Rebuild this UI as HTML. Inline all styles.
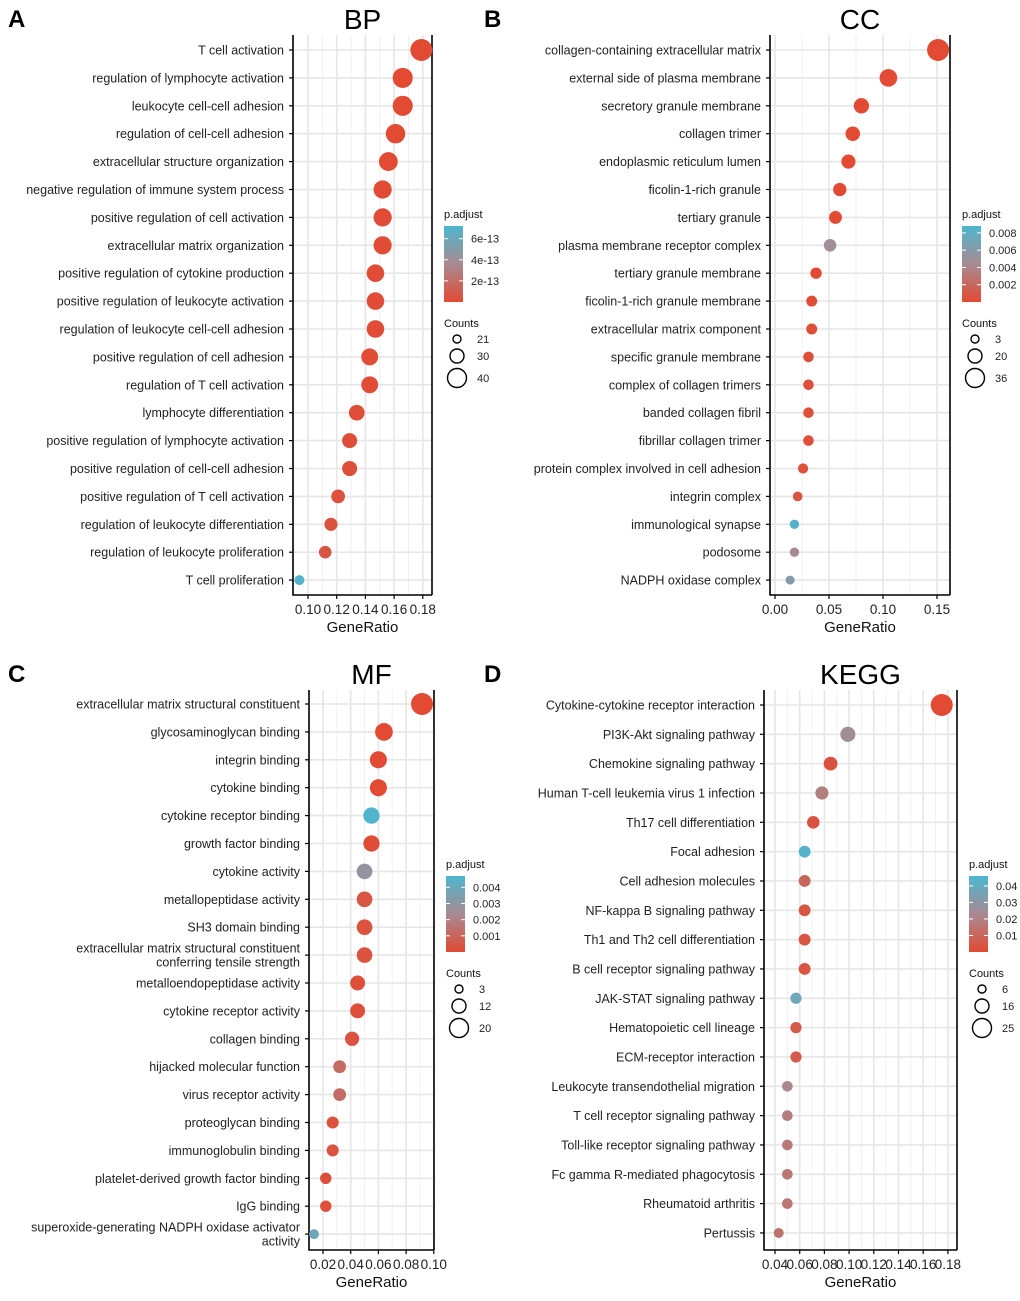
<!DOCTYPE html>
<html><head><meta charset="utf-8"><style>
body{margin:0;background:#fff;width:1020px;height:1296px;overflow:hidden}
svg text{font-family:"Liberation Sans",Arial,sans-serif}
</style></head><body>
<svg id="fig" width="1020" height="1296" xmlns="http://www.w3.org/2000/svg"></svg>
<script>
const NS="http://www.w3.org/2000/svg";
// ---------- Panel A (BP) data ----------
const bpTerms=["T cell activation","regulation of lymphocyte activation","leukocyte cell-cell adhesion","regulation of cell-cell adhesion","extracellular structure organization","negative regulation of immune system process","positive regulation of cell activation","extracellular matrix organization","positive regulation of cytokine production","positive regulation of leukocyte activation","regulation of leukocyte cell-cell adhesion","positive regulation of cell adhesion","regulation of T cell activation","lymphocyte differentiation","positive regulation of lymphocyte activation","positive regulation of cell-cell adhesion","positive regulation of T cell activation","regulation of leukocyte differentiation","regulation of leukocyte proliferation","T cell proliferation"];
const bpRatio=[0.179,0.166,0.166,0.161,0.156,0.152,0.152,0.152,0.147,0.147,0.147,0.143,0.143,0.134,0.129,0.129,0.121,0.116,0.112,0.094];
const bpCount=[40,37,37,36,35,34,34,34,33,33,33,32,32,30,29,29,27,26,25,21];
const bpP=[1e-20,1e-16,1e-16,1e-15,1e-15,1e-14,1e-14,1e-14,1e-14,1e-14,1e-14,1e-14,1e-14,2e-14,3e-14,3e-14,4e-14,5e-14,6e-14,7e-13];
// ---------- Panel B (CC) data ----------
const ccTerms=["collagen-containing extracellular matrix","external side of plasma membrane","secretory granule membrane","collagen trimer","endoplasmic reticulum lumen","ficolin-1-rich granule","tertiary granule","plasma membrane receptor complex","tertiary granule membrane","ficolin-1-rich granule membrane","extracellular matrix component","specific granule membrane","complex of collagen trimers","banded collagen fibril","fibrillar collagen trimer","protein complex involved in cell adhesion","integrin complex","immunological synapse","podosome","NADPH oxidase complex"];
const ccRatio=[0.151,0.105,0.080,0.072,0.068,0.060,0.056,0.051,0.038,0.034,0.034,0.031,0.031,0.031,0.031,0.026,0.021,0.018,0.018,0.014];
const ccCount=[36,25,19,17,16,14,13,12,9,8,8,7,7,7,7,6,5,4,4,3];
const ccP=[1e-10,1e-8,1e-7,1e-6,1e-6,1e-5,2e-5,0.0048,1e-4,2e-4,2e-4,3e-4,3e-4,3e-4,3e-4,5e-4,8e-4,0.0085,0.0045,0.0062];
// ---------- Panel C (MF) data ----------
const mfTerms=["extracellular matrix structural constituent","glycosaminoglycan binding","integrin binding","cytokine binding","cytokine receptor binding","growth factor binding","cytokine activity","metallopeptidase activity","SH3 domain binding","extracellular matrix structural constituent|conferring tensile strength","metalloendopeptidase activity","cytokine receptor activity","collagen binding","hijacked molecular function","virus receptor activity","proteoglycan binding","immunoglobulin binding","platelet-derived growth factor binding","IgG binding","superoxide-generating NADPH oxidase activator|activity"];
const mfRatio=[0.0915,0.064,0.060,0.060,0.055,0.055,0.050,0.050,0.050,0.050,0.045,0.045,0.041,0.032,0.032,0.027,0.027,0.022,0.022,0.0135];
const mfCount=[20,14,13,13,12,12,11,11,11,11,10,10,9,7,7,6,6,5,5,3];
const mfP=[1e-8,1e-6,1e-5,1e-5,0.0046,1e-4,0.0029,4e-4,3e-4,3e-4,2e-4,2e-4,3e-4,0.0012,0.0012,3e-4,3e-4,2e-4,2e-4,0.0038];
// ---------- Panel D (KEGG) data ----------
const kgTerms=["Cytokine-cytokine receptor interaction","PI3K-Akt signaling pathway","Chemokine signaling pathway","Human T-cell leukemia virus 1 infection","Th17 cell differentiation","Focal adhesion","Cell adhesion molecules","NF-kappa B signaling pathway","Th1 and Th2 cell differentiation","B cell receptor signaling pathway","JAK-STAT signaling pathway","Hematopoietic cell lineage","ECM-receptor interaction","Leukocyte transendothelial migration","T cell receptor signaling pathway","Toll-like receptor signaling pathway","Fc gamma R-mediated phagocytosis","Rheumatoid arthritis","Pertussis"];
const kgRatio=[0.175,0.099,0.085,0.078,0.071,0.064,0.064,0.064,0.064,0.064,0.057,0.057,0.057,0.050,0.050,0.050,0.050,0.050,0.043];
const kgCount=[25,14,12,11,10,9,9,9,9,9,8,8,8,7,7,7,7,7,6];
const kgP=[1e-10,0.025,0.003,0.019,0.003,0.044,0.010,0.004,0.004,0.004,0.038,0.006,0.006,0.022,0.018,0.017,0.016,0.016,0.014];

function el(tag,attrs,parent){const e=document.createElementNS(NS,tag);for(const k in attrs)e.setAttribute(k,attrs[k]);(parent||svg).appendChild(e);return e;}
const svg=document.getElementById('fig');
function mix(a,b,t){return a.map((v,i)=>Math.round(v+(b[i]-v)*t));}
const RED=[226,74,51],MID=[168,138,146],BLUE=[77,182,207];
function pcol(t){t=Math.max(0,Math.min(1,t));const c=t<0.5?mix(RED,MID,t*2):mix(MID,BLUE,(t-0.5)*2);return `rgb(${c})`;}

function panel(o){
  const g=el('g',{});
  
  
  const xs=v=>o.X0+(v-o.x0)*o.pxu;
  const n=o.terms.length;
  const ys=i=>o.y0+i*o.dy;
  el('rect',{x:o.L,y:o.T,width:o.R-o.L,height:o.B-o.T,fill:'#fff'},g);
  for(let k=-1;k<o.ticks.length+1;k++){
    const v=o.tv0+(k+0.5)*o.tstep;const x=xs(v);
    if(x>o.L&&x<o.R)el('line',{x1:x,x2:x,y1:o.T,y2:o.B,stroke:'#f0f0f0','stroke-width':1},g);
  }
  o.ticks.forEach((t,k)=>{const x=xs(o.tv0+k*o.tstep);
    el('line',{x1:x,x2:x,y1:o.T,y2:o.B,stroke:'#e6e6e6','stroke-width':1.6},g);});
  for(let i=0;i<n;i++)el('line',{x1:o.L,x2:o.R,y1:ys(i),y2:ys(i),stroke:'#e6e6e6','stroke-width':1.6},g);
  el('path',{d:`M${o.L},${o.T}V${o.B}H${o.R}`,fill:'none',stroke:'#000','stroke-width':1.6},g);
  el('path',{d:`M${o.R},${o.T}V${o.B}`,fill:'none',stroke:'#000','stroke-width':1.6},g);
  o.terms.forEach((term,i)=>{
    const r=o.rmin+(o.rmax-o.rmin)*(o.count[i]-o.cmin)/(o.cmax-o.cmin);
    const c=el('circle',{cx:xs(o.ratio[i]),cy:ys(i),r:r,fill:pcol(o.p[i]/o.pmax)},g);
    
    
    el('line',{x1:o.L-4,x2:o.L,y1:ys(i),y2:ys(i),stroke:'#000','stroke-width':1.2},g);
    const parts=term.split('|');
    const t=el('text',{x:o.L-9,y:ys(i)+4.5,'text-anchor':'end','font-size':12.5,fill:'#222'},g);
    
    
    if(parts.length===1)t.textContent=term;
    else{t.setAttribute('y',ys(i)-2.5);parts.forEach((p,j)=>{const s=el('tspan',{x:o.L-9,dy:j?14:0},t);s.textContent=p;});}
  });
  o.ticks.forEach((lab,k)=>{const x=xs(o.tv0+k*o.tstep);
    el('line',{x1:x,x2:x,y1:o.B,y2:o.B+4,stroke:'#000','stroke-width':1.2},g);
    const t=el('text',{x:x,y:o.B+19,'text-anchor':'middle','font-size':13.5,fill:'#222'},g);t.textContent=lab;
    
    
  });
  const xt=el('text',{x:(o.L+o.R)/2,y:o.B+37,'text-anchor':'middle','font-size':15,fill:'#111'},g);xt.textContent='GeneRatio';
  
  
  const tt=el('text',{x:(o.L+o.R)/2,y:o.T-6,'text-anchor':'middle','font-size':28,fill:'#000'},g);tt.textContent=o.title;
  
  
  const pl=el('text',{x:o.letterX,y:o.T-8,'font-size':24,'font-weight':'bold',fill:'#000'},g);pl.textContent=o.letter;
  
  
  const lx=o.R+12,ly=o.legY;
  const lt=el('text',{x:lx,y:ly,'font-size':11,fill:'#111'},g);lt.textContent='p.adjust';
  
  
  const gid='grad'+o.name;
  const gr=el('linearGradient',{id:gid,x1:0,y1:1,x2:0,y2:0},g);
  [[0,'rgb('+RED+')'],[0.5,'rgb('+MID+')'],[1,'rgb('+BLUE+')']].forEach(s=>el('stop',{offset:s[0],'stop-color':s[1]},gr));
  const cb=el('rect',{x:lx,y:ly+8,width:19,height:76,fill:`url(#${gid})`},g);
  
  
  o.legTicks.forEach((lab,k)=>{const y=ly+8+76-(o.legVals[k]/o.pmax)*76;
    el('line',{x1:lx,x2:lx+4,y1:y,y2:y,stroke:'#fff'},g);el('line',{x1:lx+15,x2:lx+19,y1:y,y2:y,stroke:'#fff'},g);
    const t=el('text',{x:lx+27,y:y+4,'font-size':11,fill:'#222'},g);t.textContent=lab;});
  const ct=el('text',{x:lx,y:ly+109,'font-size':11,fill:'#111'},g);ct.textContent='Counts';
  
  
  const lr=[4,7,9.5],lyy=[ly+121,ly+138,ly+160];
  o.legCounts.forEach((c,k)=>{el('circle',{cx:lx+13,cy:lyy[k],r:lr[k],fill:'none',stroke:'#000','stroke-width':1.4},g);
    const t=el('text',{x:lx+33,y:lyy[k]+4,'font-size':11,fill:'#222'},g);t.textContent=c;});
}
panel({name:'bp',title:'BP',letter:'A',letterX:8,terms:bpTerms,ratio:bpRatio,count:bpCount,p:bpP,
  L:293,R:432,T:35,B:595,y0:50,dy:27.9,X0:308,x0:0.10,pxu:1435,tv0:0.10,tstep:0.02,ticks:['0.10','0.12','0.14','0.16','0.18'],
  cmin:21,cmax:40,rmin:5,rmax:11,pmax:7.2e-13,legY:218,legTicks:['6e-13','4e-13','2e-13'],legVals:[6e-13,4e-13,2e-13],legCounts:[21,30,40]});
panel({name:'cc',title:'CC',letter:'B',letterX:484,terms:ccTerms,ratio:ccRatio,count:ccCount,p:ccP,
  L:770,R:950,T:35,B:595,y0:50,dy:27.9,X0:775,x0:0,pxu:1080,tv0:0,tstep:0.05,ticks:['0.00','0.05','0.10','0.15'],
  cmin:3,cmax:36,rmin:4.5,rmax:11,pmax:0.0088,legY:218,legTicks:['0.008','0.006','0.004','0.002'],legVals:[0.008,0.006,0.004,0.002],legCounts:[3,20,36]});
panel({name:'mf',title:'MF',letter:'C',letterX:8,terms:mfTerms,ratio:mfRatio,count:mfCount,p:mfP,
  L:309,R:434,T:690,B:1250,y0:704,dy:27.9,X0:323,x0:0.02,pxu:1385,tv0:0.02,tstep:0.02,ticks:['0.02','0.04','0.06','0.08','0.10'],
  cmin:3,cmax:20,rmin:5,rmax:11,pmax:0.0047,legY:868,legTicks:['0.004','0.003','0.002','0.001'],legVals:[0.004,0.003,0.002,0.001],legCounts:[3,12,20]});
panel({name:'kegg',title:'KEGG',letter:'D',letterX:484,terms:kgTerms,ratio:kgRatio,count:kgCount,p:kgP,
  L:764,R:957,T:690,B:1250,y0:705,dy:29.33,X0:775,x0:0.04,pxu:1235,tv0:0.04,tstep:0.02,ticks:['0.04','0.06','0.08','0.10','0.12','0.14','0.16','0.18'],
  cmin:6,cmax:25,rmin:5,rmax:11,pmax:0.046,legY:868,legTicks:['0.04','0.03','0.02','0.01'],legVals:[0.04,0.03,0.02,0.01],legCounts:[6,16,25]});
</script>
</body></html>
